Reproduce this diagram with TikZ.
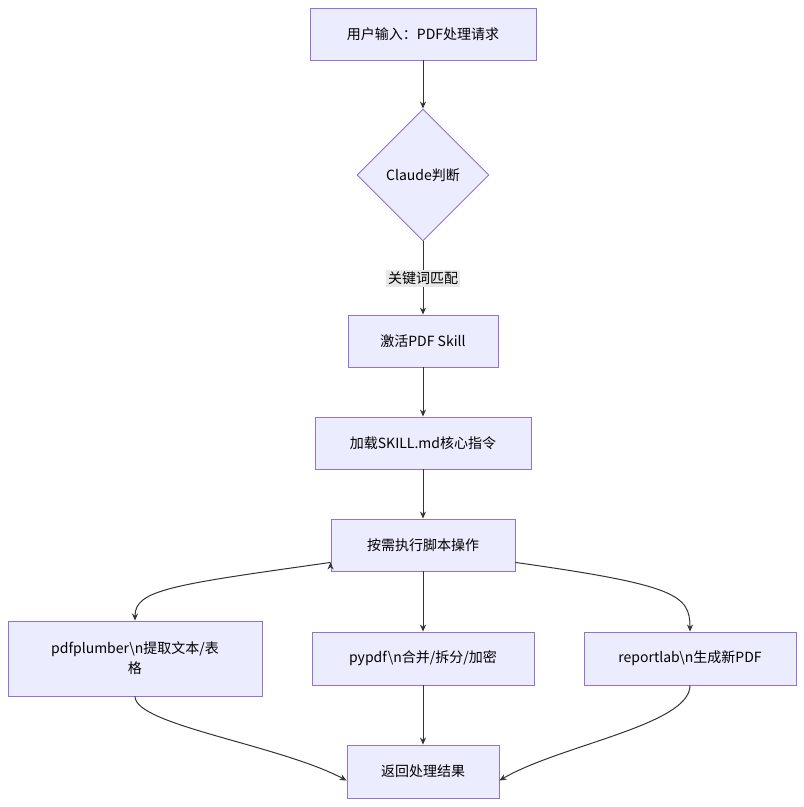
\documentclass[tikz,border=0pt]{standalone}
\usepackage{fontspec}
\setmainfont{Noto Sans CJK SC}
\usetikzlibrary{shapes.geometric,arrows.meta}
\begin{document}
\begin{tikzpicture}[x=1pt,y=-1pt,
  box/.style={draw=mmstroke,fill=mmfill,line width=0.9pt,inner sep=0pt,font=\fontsize{14}{20}\selectfont},
  arr/.style={draw=mmline,line width=1pt,-{Stealth[length=7pt,width=6pt]}}]
\definecolor{mmfill}{HTML}{ECECFF}
\definecolor{mmstroke}{HTML}{9370DB}
\definecolor{mmline}{HTML}{333333}
\definecolor{lbl}{HTML}{E8E8E8}
\useasboundingbox (0,0) rectangle (804,807);
\node[box,minimum width=226pt,minimum height=52pt] (a) at (423,34) {用户输入：PDF处理请求};
\node[box,diamond,minimum width=132pt,minimum height=132pt,aspect=1] (b) at (423,175) {Claude判断};
\node[box,minimum width=150pt,minimum height=52pt] (c) at (423,341) {激活PDF Skill};
\node[box,minimum width=216pt,minimum height=52pt] (d) at (423,443) {加载SKILL.md核心指令};
\node[box,minimum width=184pt,minimum height=52pt] (e) at (423,545) {按需执行脚本操作};
\node[box,minimum width=254pt,minimum height=75pt,align=center] (f) at (135,658.5) {pdfplumber\textbackslash n提取文本/表\\格};
\node[box,minimum width=222pt,minimum height=53pt] (g) at (423,658.5) {pypdf\textbackslash n合并/拆分/加密};
\node[box,minimum width=212pt,minimum height=53pt] (h) at (690,658.5) {reportlab\textbackslash n生成新PDF};
\node[box,minimum width=152pt,minimum height=53pt] (i) at (423,771.5) {返回处理结果};
\draw[arr] (a) -- (b);
\draw[arr] (b) -- node[fill=lbl,inner sep=2pt,font=\fontsize{14}{16}\selectfont] {关键词匹配} (c);
\draw[arr] (c) -- (d);
\draw[arr] (d) -- (e);
\draw[arr] (e.south west) ++(0,-9) coordinate (e1);
\draw[arr] (e1) .. controls (170,585) and (135,590) .. (f.north);
\draw[arr] (e) -- (g);
\coordinate (e2) at ([yshift=9pt]e.south east);
\draw[arr] (e2) .. controls (676,585) and (690,595) .. (h.north);
\draw[arr] (f.south) .. controls (135,725) and (280,745) .. ([yshift=-9pt]i.west);
\draw[arr] (g) -- (i);
\draw[arr] (h.south) .. controls (690,725) and (560,745) .. ([yshift=-9pt]i.east);
\end{tikzpicture}
\end{document}
